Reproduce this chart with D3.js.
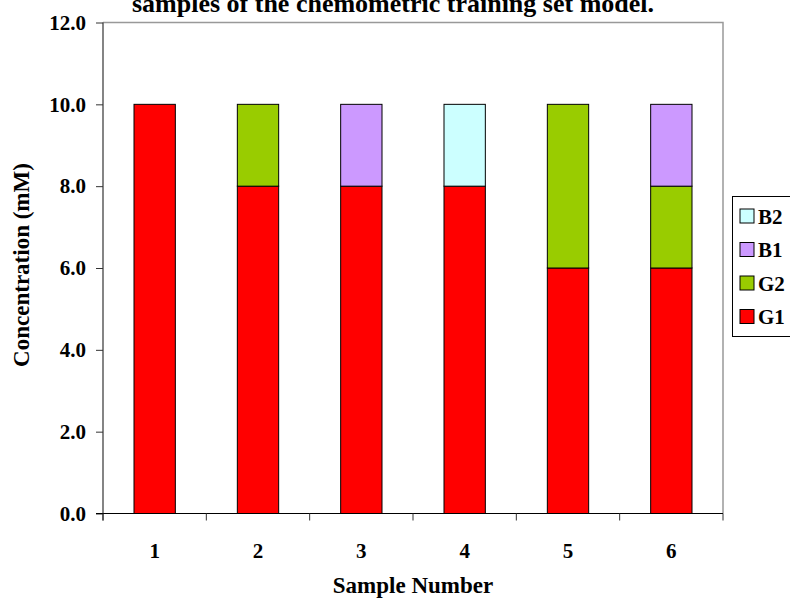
<!DOCTYPE html>
<html>
<head>
<meta charset="utf-8">
<script src="https://cdn.jsdelivr.net/npm/d3@7/dist/d3.min.js"></script>
<style>
  html, body { margin: 0; padding: 0; background: #fff; }
  svg { display: block; }
  text { font-family: "Liberation Serif", "Times New Roman", serif; font-weight: bold; fill: #000; }
</style>
</head>
<body>
<svg id="chart" width="790" height="599"></svg>
<script>
// Sample composition (mM) for each training-set sample
const samples = ["1", "2", "3", "4", "5", "6"];
const G1 = [10, 8, 8, 8, 6, 6];
const G2 = [0, 2, 0, 0, 4, 2];
const B1 = [0, 0, 2, 0, 0, 2];
const B2 = [0, 0, 0, 2, 0, 0];
const seriesNames = ["G1", "G2", "B1", "B2"];
const seriesColors = ["#FF0000", "#99CC00", "#CC99FF", "#CCFFFF"];
const yTicks = [0, 2, 4, 6, 8, 10, 12];

const svg = d3.select("#chart");
const W = 790, H = 599;
const plot = { left: 103, right: 723, top: 22.5, bottom: 513.5 };

const rows = samples.map((s, i) => ({ sample: s, G1: G1[i], G2: G2[i], B1: B1[i], B2: B2[i] }));
const stacked = d3.stack().keys(seriesNames)(rows);

const x = d3.scaleBand().domain(samples).range([plot.left, plot.right]).paddingInner(0.6).paddingOuter(0.3);
const xEdges = d3.scaleBand().domain(samples).range([plot.left, plot.right]).padding(0);
const y = d3.scaleLinear().domain([0, 12]).range([plot.bottom, plot.top]);
const color = d3.scaleOrdinal().domain(seriesNames).range(seriesColors);

// Title (continuation line)
svg.append("text")
  .attr("x", 393).attr("y", 12)
  .attr("text-anchor", "middle")
  .style("font-size", "26px")
  .text("samples of the chemometric training set model.");

// Plot frame: top and right edges
svg.append("path")
  .attr("d", `M${plot.left},${plot.top}H${plot.right}V${plot.bottom}`)
  .attr("fill", "none").attr("stroke", "#999").attr("stroke-width", 1.5);

// Stacked bars
svg.append("g").selectAll("g")
  .data(stacked).join("g")
  .attr("fill", d => color(d.key))
  .selectAll("rect")
  .data(d => d.filter(p => p[1] - p[0] > 0))
  .join("rect")
  .attr("x", d => x(d.data.sample))
  .attr("width", x.bandwidth())
  .attr("y", d => y(d[1]))
  .attr("height", d => y(d[0]) - y(d[1]))
  .attr("stroke", "#000").attr("stroke-width", 1);

// Y axis
const yAxis = svg.append("g")
  .attr("transform", `translate(${plot.left},0)`)
  .call(d3.axisLeft(y).tickValues(yTicks).tickFormat(d3.format(".1f")).tickSize(7).tickPadding(10));
yAxis.select(".domain").attr("stroke", "#333").attr("stroke-width", 1.2).attr("d", `M0,${plot.top}V${plot.bottom + 7}`);
yAxis.selectAll(".tick line").attr("stroke", "#333");
yAxis.selectAll("text").style("font-size", "21px").attr("font-family", null);

// X axis with ticks at category boundaries
const xAxis = svg.append("g").attr("transform", `translate(0,${plot.bottom})`);
xAxis.append("line").attr("x1", plot.left - 7).attr("x2", plot.right)
  .attr("stroke", "#000").attr("stroke-width", 1.2);
xAxis.selectAll("line.edge")
  .data(samples.concat(["end"])).join("line").attr("class", "edge")
  .attr("x1", (d, i) => i < samples.length ? xEdges(d) : plot.right)
  .attr("x2", (d, i) => i < samples.length ? xEdges(d) : plot.right)
  .attr("y1", 0).attr("y2", 7).attr("stroke", "#333");
xAxis.selectAll("text.lab")
  .data(samples).join("text").attr("class", "lab")
  .attr("x", d => x(d) + x.bandwidth() / 2)
  .attr("y", 44)
  .attr("text-anchor", "middle")
  .style("font-size", "21px")
  .text(d => d);

// Axis titles
svg.append("text")
  .attr("x", 413).attr("y", 593)
  .attr("text-anchor", "middle")
  .style("font-size", "23px")
  .text("Sample Number");
svg.append("text")
  .attr("transform", `translate(29,265) rotate(-90)`)
  .attr("text-anchor", "middle")
  .style("font-size", "23px")
  .text("Concentration (mM)");

// Legend (top entry is the last stacked series)
const legend = svg.append("g");
legend.append("rect")
  .attr("x", 732.5).attr("y", 196.5).attr("width", 80).attr("height", 140)
  .attr("fill", "#fff").attr("stroke", "#000").attr("stroke-width", 1);
const legendOrder = seriesNames.slice().reverse();
const items = legend.selectAll("g.item").data(legendOrder).join("g").attr("class", "item")
  .attr("transform", (d, i) => `translate(0,${216 + i * 33.5})`);
items.append("rect")
  .attr("x", 740).attr("y", -7).attr("width", 14).attr("height", 14)
  .attr("fill", d => color(d)).attr("stroke", "#000").attr("stroke-width", 1);
items.append("text")
  .attr("x", 758).attr("y", 7.5)
  .style("font-size", "21px")
  .text(d => d);
</script>
</body>
</html>
